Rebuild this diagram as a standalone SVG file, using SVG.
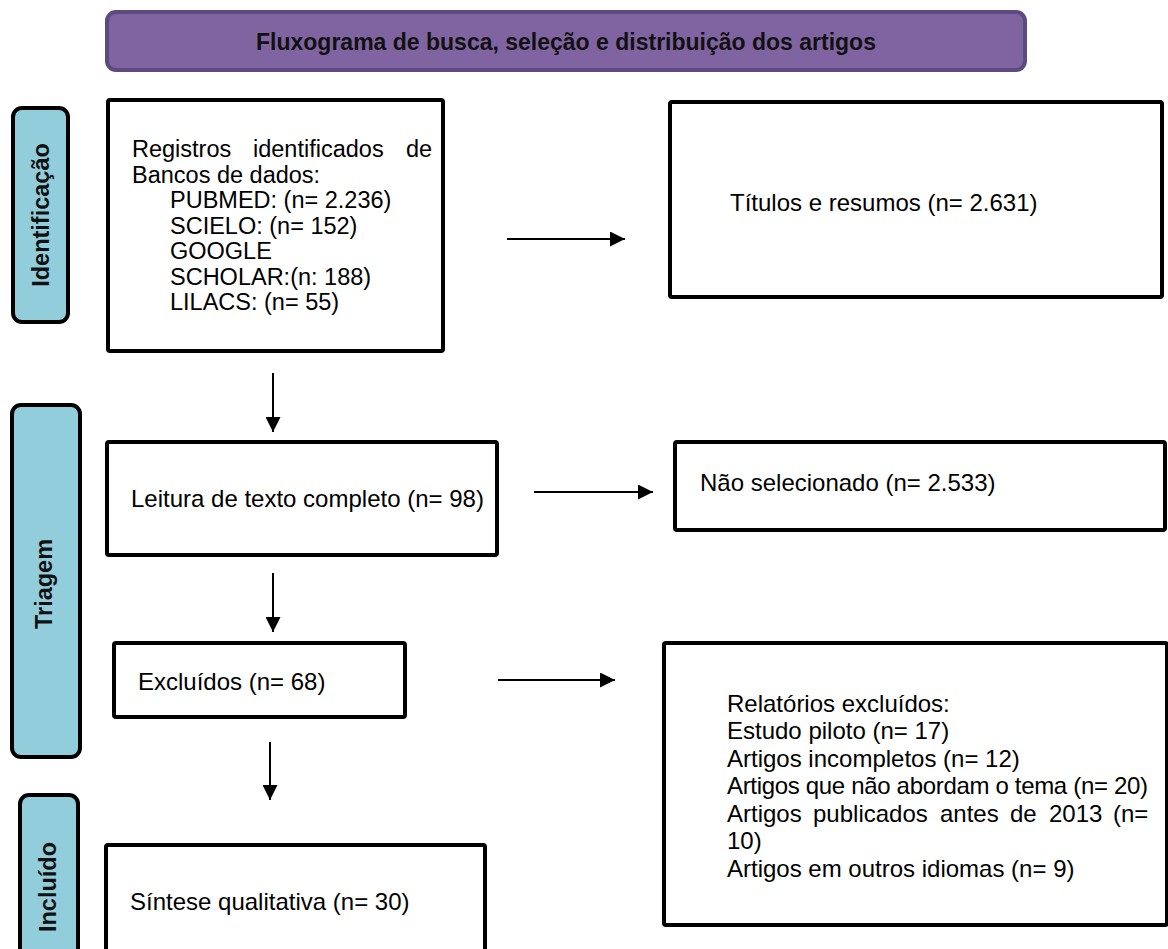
<svg xmlns="http://www.w3.org/2000/svg" width="1168" height="949" viewBox="0 0 1168 949">
<style>
.box{fill:#fff;stroke:#000;stroke-width:4;}
.side{fill:#92CDDC;stroke:#000;stroke-width:4;}
.t{font-family:"Liberation Sans",Arial,sans-serif;font-size:24px;fill:#000;}
.r{font-family:"Liberation Sans",Arial,sans-serif;font-size:23.5px;fill:#000;}
.lbl{font-family:"Liberation Sans",Arial,sans-serif;font-size:23.5px;font-weight:bold;fill:#111;}
.hd{font-family:"Liberation Sans",Arial,sans-serif;font-size:23px;font-weight:bold;fill:#111;}
.c{stroke:#000;stroke-width:2;fill:none;marker-end:url(#ah);}
</style>
<defs>
<marker id="ah" markerUnits="userSpaceOnUse" markerWidth="15" markerHeight="15" refX="15" refY="7.5" orient="auto">
<path d="M0,0 L15,7.5 L0,15 z" fill="#000"/>
</marker>
</defs>
<rect width="1168" height="949" fill="#fff"/>
<g id="header">
<rect x="107" y="12" width="918" height="58" rx="9" fill="#8064A2" stroke="#5D4A7E" stroke-width="4"/>
<text class="hd" x="566" y="50" text-anchor="middle">Fluxograma de busca, seleção e distribuição dos artigos</text>
</g>
<g id="lbl-identificacao">
<rect class="side" x="13" y="108" width="55" height="214" rx="9"/>
<text class="lbl" transform="translate(41,215) rotate(-90)" text-anchor="middle" dy="0.36em">Identificação</text>
</g>
<g id="lbl-triagem">
<rect class="side" x="12" y="405" width="68" height="352" rx="9"/>
<text class="lbl" transform="translate(44,584) rotate(-90)" text-anchor="middle" dy="0.36em">Triagem</text>
</g>
<g id="lbl-incluido">
<rect class="side" x="20" y="795" width="58" height="200" rx="9"/>
<text class="lbl" transform="translate(48,887) rotate(-90)" text-anchor="middle" dy="0.36em">Incluído</text>
</g>
<g id="registros">
<rect class="box" x="108" y="100" width="335" height="251" rx="2"/>
<text class="r" y="157"><tspan x="132">Registros</tspan><tspan x="253">identificados</tspan><tspan x="406">de</tspan></text>
<text class="r" x="132" y="182.5">Bancos de dados:</text>
<text class="r" x="170" y="208">PUBMED: (n= 2.236)</text>
<text class="r" x="170" y="233.5">SCIELO: (n= 152)</text>
<text class="r" x="170" y="259">GOOGLE</text>
<text class="r" x="170" y="284.5">SCHOLAR:(n: 188)</text>
<text class="r" x="170" y="310">LILACS: (n= 55)</text>
</g>
<g id="titulos">
<rect class="box" x="670" y="102" width="492" height="195" rx="2"/>
<text class="t" x="730" y="211">Títulos e resumos (n= 2.631)</text>
</g>
<g id="leitura">
<rect class="box" x="107" y="442" width="390" height="113" rx="2"/>
<text class="t" x="131" y="507">Leitura de texto completo (n= 98)</text>
</g>
<g id="nao-selecionado">
<rect class="box" x="675" y="442" width="490" height="88" rx="2"/>
<text class="t" x="700" y="491">Não selecionado (n= 2.533)</text>
</g>
<g id="excluidos">
<rect class="box" x="114" y="643" width="291" height="74" rx="2"/>
<text class="t" x="138" y="690">Excluídos (n= 68)</text>
</g>
<g id="relatorios">
<rect class="box" x="664" y="643" width="503" height="282" rx="2"/>
<text class="t" x="727" y="712">Relatórios excluídos:</text>
<text class="t" x="727" y="739">Estudo piloto (n= 17)</text>
<text class="t" x="727" y="767">Artigos incompletos (n= 12)</text>
<text class="t" x="727" y="794" textLength="421" lengthAdjust="spacing">Artigos que não abordam o tema (n= 20)</text>
<text class="t" y="822"><tspan x="727">Artigos</tspan><tspan x="813">publicados</tspan><tspan x="940">antes</tspan><tspan x="1010">de</tspan><tspan x="1049">2013</tspan><tspan x="1113">(n=</tspan></text>
<text class="t" x="727" y="849">10)</text>
<text class="t" x="727" y="877">Artigos em outros idiomas (n= 9)</text>
</g>
<g id="sintese">
<rect class="box" x="106" y="845" width="379" height="130" rx="2"/>
<text class="t" x="130" y="910">Síntese qualitativa (n= 30)</text>
</g>
<g id="connectors">
<line class="c" x1="507" y1="239" x2="625" y2="239"/>
<line class="c" x1="273" y1="373" x2="273" y2="432"/>
<line class="c" x1="534" y1="492" x2="653" y2="492"/>
<line class="c" x1="273" y1="573" x2="273" y2="632"/>
<line class="c" x1="498" y1="680" x2="615" y2="680"/>
<line class="c" x1="270" y1="742" x2="270" y2="800"/>
</g>
</svg>
